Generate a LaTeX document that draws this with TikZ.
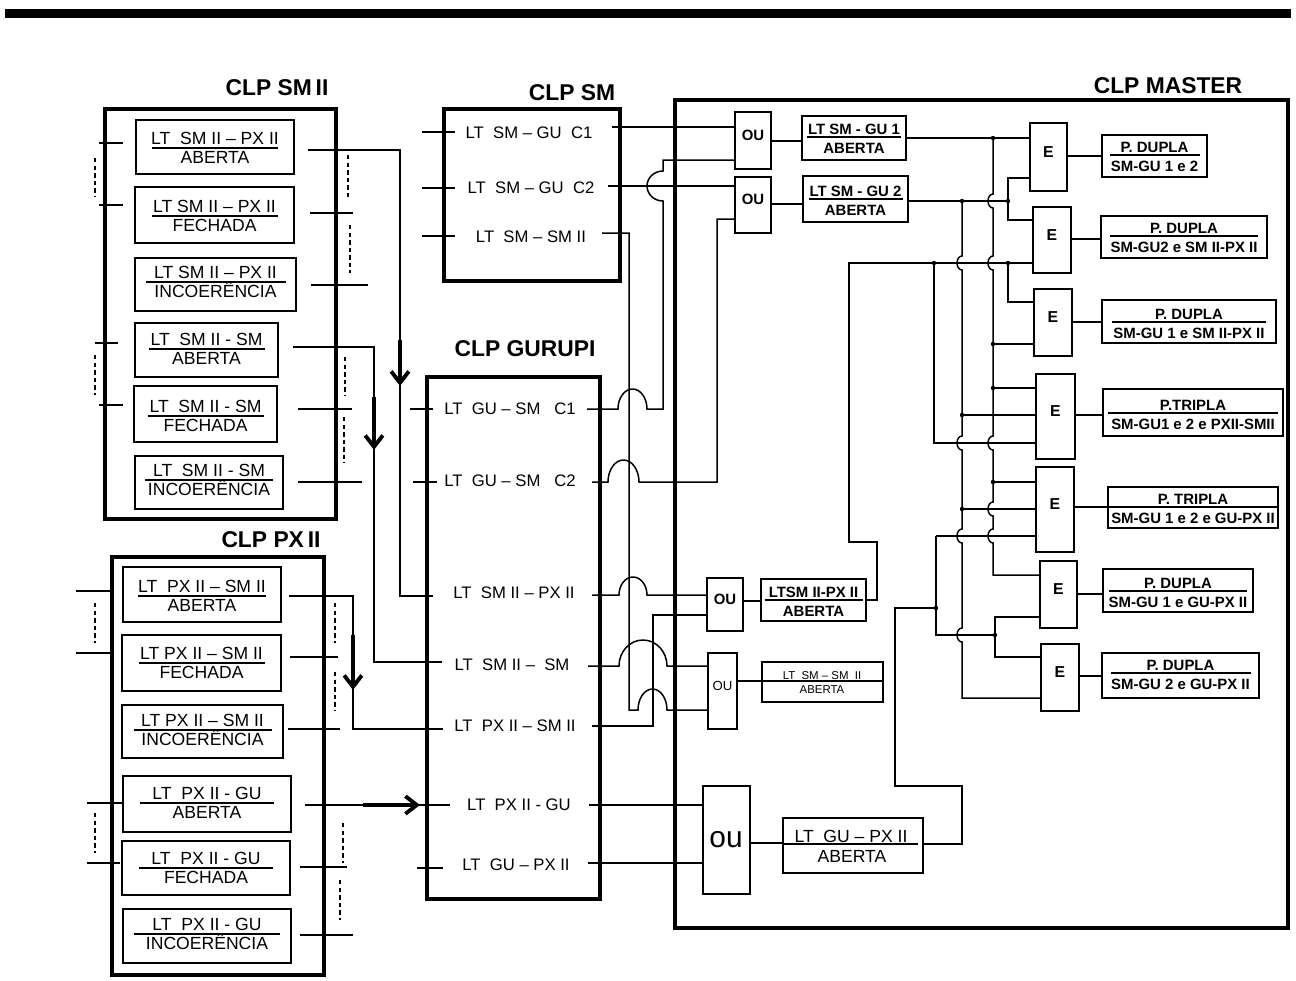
\documentclass[tikz,border=0pt]{standalone}
\usepackage{fontspec}
\setmainfont{Liberation Sans}
\usetikzlibrary{fit,calc,arrows.meta}
\tikzset{
 thinl/.style={line width=0.85pt},
 boxf/.style={draw, line width=0.85pt, inner sep=0pt},
 clp/.style={draw, line width=2.7pt, inner sep=0pt},
 ttl/.style={font=\fontsize{13}{15}\selectfont\bfseries, inner sep=0pt},
 txA/.style={font=\fontsize{10}{12}\selectfont, inner sep=0pt},
 txG/.style={font=\fontsize{9.5}{11}\selectfont, inner sep=0pt},
 txB/.style={font=\fontsize{8.5}{10}\selectfont\bfseries, inner sep=0pt},
 txS/.style={font=\fontsize{6.5}{8}\selectfont, inner sep=0pt},
 txE/.style={font=\fontsize{9}{10}\selectfont\bfseries, inner sep=0pt},
 fbtext/.style={txA},
 dsh/.style={line width=0.6pt, dash pattern=on 2.5pt off 1.8pt},
 arr/.style={line width=2.2pt, -{Straight Barb[length=6.5pt,width=10pt]}},
}
\newcommand\vhop[2]{-- (#1,#2-7) arc[start angle=270,end angle=90,x radius=5,y radius=7]}
\def\tup{4}\def\tdn{15}
\newcommand\fb[9]{%
 \node[fit={(#2,#3)(#4,#5)}, boxf] (#1) {};
 \coordinate (#1r) at ({(#2+#4)/2},#6);
 \draw[thinl] ($(#1r)+(-#7,0)$) -- ($(#1r)+(#7,0)$);
 \node[fbtext, anchor=base] (#1t) at ($(#1r)+(0,-\tup)$) {#8};
 \node[fbtext, anchor=base] (#1b) at ($(#1r)+(0,\tdn)$) {#9};
}
\begin{document}
\begin{tikzpicture}[x=0.02cm,y=-0.02cm]
\useasboundingbox (0,0) rectangle (1296,981);
\fill (5,9) rectangle (1291,18);

% titles
\node[ttl] (tsm2) at (277,88) {CLP SM\,II};
\node[ttl] (tpx2) at (271,540) {CLP PX\,II};
\node[ttl] (tsm) at (572,93) {CLP SM};
\node[ttl] (tgu) at (525,349) {CLP GURUPI};
\node[ttl] (tma) at (1168,86) {CLP MASTER};

% outer boxes
\node[clp, fit={(105,109)(336,519)}] (SMII) {};
\node[clp, fit={(112,557)(324,975)}] (PXII) {};
\node[clp, fit={(444,109)(620,281)}] (SMB) {};
\node[clp, fit={(427,377)(600,899)}] (GUB) {};
\node[clp, fit={(675,100)(1288,928)}] (MAS) {};

% CLP SM II boxes
\fb{s1}{136}{120}{294}{174}{148}{63}{LT\ \ SM II – PX II}{ABERTA}
\fb{s2}{135}{187}{294}{243}{216}{63}{LT SM II – PX II}{FECHADA}
\fb{s3}{135}{258}{296}{311}{282}{70}{LT SM II – PX II}{INCOERÊNCIA}
\fb{s4}{135}{323}{278}{377}{349}{58}{LT\ \ SM II - SM}{ABERTA}
\fb{s5}{134}{386}{277}{442}{416}{58}{LT\ \ SM II - SM}{FECHADA}
\fb{s6}{135}{456}{283}{509}{480}{64}{LT\ \ SM II - SM}{INCOERÊNCIA}

% CLP PX II boxes
\fb{p1}{123}{567}{281}{622}{596}{64}{LT\ \ PX II – SM II}{ABERTA}
\fb{p2}{122}{635}{281}{691}{663}{63}{LT PX II – SM II}{FECHADA}
\fb{p3}{122}{705}{283}{758}{730}{69}{LT PX II – SM II}{INCOERÊNCIA}
\fb{p4}{123}{776}{291}{832}{803}{67}{LT\ \ PX II - GU}{ABERTA}
\fb{p5}{122}{841}{290}{895}{868}{67}{LT\ \ PX II - GU}{FECHADA}
\fb{p6}{123}{909}{291}{963}{934}{73}{LT\ \ PX II - GU}{INCOERÊNCIA}

% CLP SM texts
\node[txG] (c1) at (529,133) {LT\ \ SM – GU\ \ C1};
\node[txG] (c2) at (531,188) {LT\ \ SM – GU\ \ C2};
\node[txG] (c3) at (531,237) {LT\ \ SM – SM II};

% CLP GURUPI texts
\node[txG] (g1) at (510,409) {LT\ \ GU – SM\ \ \ C1};
\node[txG] (g2) at (510,481) {LT\ \ GU – SM\ \ \ C2};
\node[txG] (g3) at (514,593) {LT\ \ SM II – PX II};
\node[txG] (g4) at (512,665) {LT\ \ SM II –\ \ SM};
\node[txG] (g5) at (515,726) {LT\ \ PX II – SM II};
\node[txG] (g6) at (519,805) {LT\ \ PX II - GU};
\node[txG] (g7) at (516,865) {LT\ \ GU – PX II};

% MASTER gates
\node[boxf, txB, fit={(735,112)(771,169)}] (ou1) {OU};
\node[boxf, txB, fit={(735,177)(771,233)}] (ou2) {OU};
\node[boxf, txB, fit={(707,578)(743,631)}] (ou3) {OU};
\node[boxf, font=\fontsize{7.5}{9}\selectfont, fit={(708,653)(737,729)}] (ou4) {OU};
\node[boxf, fit={(703,786)(750,894)}] (ou5) {};
\node[font=\fontsize{17}{19}\selectfont, inner sep=0pt, anchor=base] (ou5t) at (726,847) {ou};

\node[boxf, txE, fit={(1030,123)(1067,191)}] (e1) {E};
\node[boxf, txE, fit={(1033,207)(1071,273)}] (e2) {E};
\node[boxf, txE, fit={(1034,289)(1072,356)}] (e3) {E};
\node[boxf, txE, fit={(1036,374)(1075,459)}] (e4) {E};
\node[boxf, txE, fit={(1036,467)(1074,552)}] (e5) {E};
\node[boxf, txE, fit={(1040,561)(1077,628)}] (e6) {E};
\node[boxf, txE, fit={(1041,644)(1079,711)}] (e7) {E};

% MASTER boxes (bold)
\tikzset{fbtext/.style={txB}}
\def\tup{3}\def\tdn{16}
\fb{m1}{802}{116}{906}{160}{137}{47}{LT SM - GU 1}{ABERTA}
\fb{m2}{803}{176}{908}{222}{199}{47}{LT SM - GU 2}{ABERTA}
\fb{m3}{761}{579}{866}{621}{600}{49}{LTSM II-PX II}{ABERTA}
\fb{r1}{1102}{135}{1207}{177}{155}{45}{P. DUPLA}{SM-GU 1 e 2}
\fb{r2}{1101}{216}{1267}{258}{236}{74}{P. DUPLA}{SM-GU2 e SM II-PX II}
\fb{r3}{1102}{300}{1276}{343}{322}{77}{P. DUPLA}{SM-GU 1 e SM II-PX II}
\fb{r4}{1103}{389}{1283}{436}{413}{85}{P.TRIPLA}{SM-GU1 e 2 e PXII-SMII}
\fb{r5}{1108}{487}{1278}{528}{507}{84}{P. TRIPLA}{SM-GU 1 e 2 e GU-PX II}
\fb{r6}{1103}{569}{1253}{612}{591}{69}{P. DUPLA}{SM-GU 1 e GU-PX II}
\fb{r7}{1102}{653}{1259}{698}{673}{70}{P. DUPLA}{SM-GU 2 e GU-PX II}

% small boxes
\node[boxf, fit={(762,662)(883,702)}] (m4) {};
\node[txS, anchor=base] (m4t) at (822,679) {LT\ \ SM – SM\ \ II};
\node[txS, anchor=base] (m4b) at (822,693) {ABERTA};
\node[boxf, fit={(783,818)(923,873)}] (m5) {};
\draw[thinl] (m5.west |- 0,844) -- (918,844);
\node[txA, anchor=base] (m5t) at (851,842) {LT\ \ GU – PX II};
\node[txA, anchor=base] (m5b) at (852,862) {ABERTA};

% ---- stubs and dashed marks
\draw[thinl] (99,143)--(123,143) (99,205)--(123,205) (95,343)--(118,343) (99,405)--(123,405)
 (310,213)--(353,213) (311,285)--(368,285) (298,409)--(352,409) (298,482)--(362,482);
\draw[dsh] (95,158)--(95,197) (95,355)--(95,395) (348,155)--(348,200) (350,225)--(350,273)
 (345,357)--(345,395) (344,417)--(344,463);
\draw[thinl] (76,591)--(110,591) (76,653)--(110,653) (87,803)--(122,803) (87,863)--(120,863)
 (290,657)--(338,657) (288,729)--(340,729) (300,867)--(347,867) (300,935)--(353,935);
\draw[dsh] (95,603)--(95,643) (95,813)--(95,853) (335,603)--(335,643) (335,672)--(335,710)
 (343,823)--(343,863) (340,880)--(340,920);
\draw[thinl] (422,132)--(455,132) (422,188)--(455,188) (422,236)--(455,236);
\draw[thinl] (410,409)--(433,409) (413,482)--(437,482) (417,868)--(443,868);

% ---- connectors into Gurupi
\coordinate (s1o) at (308,150); \coordinate (g3i) at (433,596);
\draw[thinl] (s1o) -| (400,596) -- (g3i);
\coordinate (s4o) at (293,347); \coordinate (g4i) at (442,662);
\draw[thinl] (s4o) -| (374,662) -- (g4i);
\coordinate (p1o) at (289,596); \coordinate (g5i) at (443,729);
\draw[thinl] (p1o) -| (353,729) -- (g5i);
\coordinate (p4o) at (305,805); \coordinate (g6i) at (450,805);
\draw[thinl] (p4o) -- (g6i);
\draw[arr] (400,340) -- (400,386);
\draw[arr] (374,397) -- (374,450);
\draw[arr] (353,635) -- (353,690);
\draw[arr] (363,805) -- (420,805);

% ---- CLP SM outputs
\coordinate (c1o) at (612,127);
\draw[thinl] (c1o) -- (ou1.west |- c1o);
\coordinate (c2o) at (608,186);
\draw[thinl] (c2o) -- (ou2.west |- c2o);
\coordinate (c3o) at (602,233);
\draw[thinl] (c3o) -- (629,233) -- (629,710) -- (638,710)
 arc[start angle=180,end angle=360,x radius=14.5,y radius=21] -- (ou4.west |- 0,710);

% ---- Gurupi outputs
\coordinate (g1o) at (587,409);
\draw[thinl] (g1o) -- (618,409) arc[start angle=180,end angle=360,x radius=14.5,y radius=20]
 -- (663,409) -- (663,201) arc[start angle=90,end angle=270,x radius=16,y radius=15]
 -- (663,160) -- (ou1.west |- 0,160);
\coordinate (g2o) at (592,482);
\draw[thinl] (g2o) -- (608,482) arc[start angle=180,end angle=360,x radius=15.5,y radius=22]
 -- (717,482) -- (717,219) -- (ou2.west |- 0,219);
\coordinate (g3o) at (592,595);
\draw[thinl] (g3o) -- (619,595) arc[start angle=180,end angle=360,x radius=14,y radius=18]
 -- (ou3.west |- 0,595);
\coordinate (g4o) at (588,666);
\draw[thinl] (g4o) -- (619,666) arc[start angle=180,end angle=360,x radius=24,y radius=26]
 -- (ou4.west |- 0,666);
\coordinate (g5o) at (592,726);
\draw[thinl] (g5o) -| (653,615) -- (ou3.west |- 0,615);
\coordinate (g6o) at (589,805);
\draw[thinl] (g6o) -- (ou5.west |- g6o);
\coordinate (g7o) at (588,863);
\draw[thinl] (g7o) -- (ou5.west |- g7o);

% ---- MASTER wiring
\draw[thinl] (ou1.east |- 0,141) -- (m1.west |- 0,141);
\draw[thinl] (ou2.east |- 0,204) -- (m2.west |- 0,204);
\draw[thinl] (ou3.east |- 0,601) -- (m3.west |- 0,601);
\draw[thinl] (ou4.east |- 0,681) -- (m4.east |- 0,681);
\draw[thinl] (ou5.east |- 0,843) -- (m5.west |- 0,843);
\draw[thinl] (m1.east |- 0,138) -- (e1.west |- 0,138);
\draw[thinl] (m2.east |- 0,201) -- (1008,201);
\draw[thinl] (e1.west |- 0,178) -| (1008,220) -- (e2.west |- 0,220);
% bus A
\draw[thinl] (993,138) \vhop{993}{201} \vhop{993}{263} \vhop{993}{443} \vhop{993}{509} \vhop{993}{536}
 -- (993,575) -- (e6.west |- 0,575);
% bus B
\draw[thinl] (962,201) \vhop{962}{263} \vhop{962}{443} \vhop{962}{536} \vhop{962}{635}
 -- (962,698) -- (e7.west |- 0,698);
\draw[thinl] (993,344) -- (e3.west |- 0,344);
\draw[thinl] (993,388) -- (e4.west |- 0,388);
\draw[thinl] (993,482) -- (e5.west |- 0,482);
\draw[thinl] (962,415) -- (e4.west |- 0,415);
\draw[thinl] (962,509) -- (e5.west |- 0,509);
% SM II - PX II
\draw[thinl] (m3.east |- 0,600) -- (877,600) -- (877,542) -- (849,542) -- (849,263) -- (e2.west |- 0,263);
\draw[thinl] (1008,263) -- (1008,302) -- (e3.west |- 0,302);
\draw[thinl] (934,263) -- (934,443) -- (e4.west |- 0,443);
% GU - PX II
\draw[thinl] (m5.east |- 0,844) -- (962,844) -- (962,786) -- (895,786) -- (895,608) -- (936,608);
\draw[thinl] (936,536) -- (936,635) -- (995,635);
\draw[thinl] (936,536) -- (e5.west |- 0,536);
\draw[thinl] (e6.west |- 0,617) -| (995,657) -- (e7.west |- 0,657);
% outputs
\draw[thinl] (e1.east |- 0,156) -- (r1.west |- 0,156);
\draw[thinl] (e2.east |- 0,239) -- (r2.west |- 0,239);
\draw[thinl] (e3.east |- 0,322) -- (r3.west |- 0,322);
\draw[thinl] (e4.east |- 0,415) -- (r4.west |- 0,415);
\draw[thinl] (e5.east |- 0,507) -- (r5.west |- 0,507);
\draw[thinl] (e6.east |- 0,594) -- (r6.west |- 0,594);
\draw[thinl] (e7.east |- 0,676) -- (r7.west |- 0,676);
% junction dots
\foreach \p in {(993,138),(962,201),(1008,201),(934,263),(1008,263),(993,344),(993,388),
 (962,415),(993,482),(962,509),(936,608),(995,635)}
 \fill \p circle[radius=2.2];
\end{tikzpicture}
\end{document}
